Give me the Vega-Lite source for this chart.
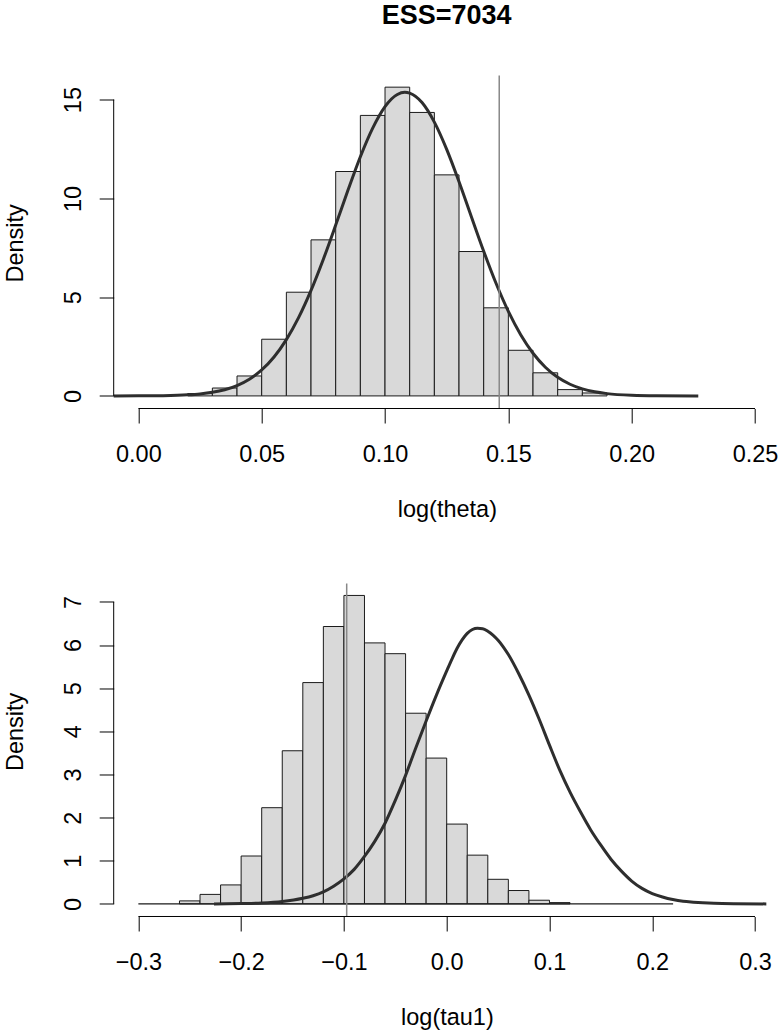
{
  "$schema": "https://vega.github.io/schema/vega-lite/v6.json",
  "autosize": {"type": "pad"},
  "padding": {"left": 3.7, "top": 1.5, "right": 0, "bottom": 0},
  "config": {
    "view": {"stroke": null},
    "font": "Liberation Sans",
    "axis": {
      "domain": false, "grid": false,
      "tickColor": "#000", "tickWidth": 1, "tickSize": 14.5,
      "labelFont": "Liberation Sans", "labelFontSize": 23.5, "labelColor": "#000",
      "titleFont": "Liberation Sans", "titleFontSize": 23.5, "titleColor": "#000", "titleFontWeight": "normal",
      "labelOverlap": false, "labelBound": false, "labelFlush": false
    }
  },
  "datasets": {
    "hist1": [
      {"lo": 0.02, "hi": 0.03, "density": 0.12},
      {"lo": 0.03, "hi": 0.04, "density": 0.40},
      {"lo": 0.04, "hi": 0.05, "density": 1.01},
      {"lo": 0.05, "hi": 0.06, "density": 2.87},
      {"lo": 0.06, "hi": 0.07, "density": 5.25},
      {"lo": 0.07, "hi": 0.08, "density": 7.90},
      {"lo": 0.08, "hi": 0.09, "density": 11.36},
      {"lo": 0.09, "hi": 0.10, "density": 14.20},
      {"lo": 0.10, "hi": 0.11, "density": 15.63},
      {"lo": 0.11, "hi": 0.12, "density": 14.35},
      {"lo": 0.12, "hi": 0.13, "density": 11.19},
      {"lo": 0.13, "hi": 0.14, "density": 7.31},
      {"lo": 0.14, "hi": 0.15, "density": 4.46},
      {"lo": 0.15, "hi": 0.16, "density": 2.31},
      {"lo": 0.16, "hi": 0.17, "density": 1.17},
      {"lo": 0.17, "hi": 0.18, "density": 0.32},
      {"lo": 0.18, "hi": 0.19, "density": 0.15}
    ],
    "curve1": [
      {"x": -0.01, "d": 0.0006}, {"x": 0.0, "d": 0.003}, {"x": 0.01, "d": 0.014},
      {"x": 0.02, "d": 0.054}, {"x": 0.025, "d": 0.1}, {"x": 0.03, "d": 0.181},
      {"x": 0.035, "d": 0.314}, {"x": 0.04, "d": 0.524}, {"x": 0.045, "d": 0.846},
      {"x": 0.05, "d": 1.315}, {"x": 0.055, "d": 1.971}, {"x": 0.06, "d": 2.849},
      {"x": 0.065, "d": 3.973}, {"x": 0.07, "d": 5.341}, {"x": 0.075, "d": 6.921},
      {"x": 0.08, "d": 8.647}, {"x": 0.085, "d": 10.42}, {"x": 0.09, "d": 12.11},
      {"x": 0.095, "d": 13.56}, {"x": 0.1, "d": 14.65}, {"x": 0.105, "d": 15.26},
      {"x": 0.108, "d": 15.37}, {"x": 0.11, "d": 15.33}, {"x": 0.115, "d": 14.85},
      {"x": 0.12, "d": 13.86}, {"x": 0.125, "d": 12.48}, {"x": 0.13, "d": 10.84},
      {"x": 0.135, "d": 9.073}, {"x": 0.14, "d": 7.324}, {"x": 0.145, "d": 5.702},
      {"x": 0.15, "d": 4.278}, {"x": 0.155, "d": 3.097}, {"x": 0.16, "d": 2.161},
      {"x": 0.165, "d": 1.453}, {"x": 0.17, "d": 0.942}, {"x": 0.175, "d": 0.59},
      {"x": 0.18, "d": 0.356}, {"x": 0.185, "d": 0.207}, {"x": 0.19, "d": 0.116},
      {"x": 0.2, "d": 0.033}, {"x": 0.21, "d": 0.008}, {"x": 0.227, "d": 0.0003}
    ],
    "vline1": [{"v": 0.1463}],
    "hist2": [
      {"lo": -0.26, "hi": -0.24, "density": 0.07},
      {"lo": -0.24, "hi": -0.22, "density": 0.22},
      {"lo": -0.22, "hi": -0.20, "density": 0.44},
      {"lo": -0.20, "hi": -0.18, "density": 1.11},
      {"lo": -0.18, "hi": -0.16, "density": 2.23},
      {"lo": -0.16, "hi": -0.14, "density": 3.55},
      {"lo": -0.14, "hi": -0.12, "density": 5.13},
      {"lo": -0.12, "hi": -0.10, "density": 6.43},
      {"lo": -0.10, "hi": -0.08, "density": 7.15},
      {"lo": -0.08, "hi": -0.06, "density": 6.05},
      {"lo": -0.06, "hi": -0.04, "density": 5.80},
      {"lo": -0.04, "hi": -0.02, "density": 4.42},
      {"lo": -0.02, "hi": 0.00, "density": 3.38},
      {"lo": 0.00, "hi": 0.02, "density": 1.85},
      {"lo": 0.02, "hi": 0.04, "density": 1.13},
      {"lo": 0.04, "hi": 0.06, "density": 0.57},
      {"lo": 0.06, "hi": 0.08, "density": 0.31},
      {"lo": 0.08, "hi": 0.10, "density": 0.085},
      {"lo": 0.10, "hi": 0.12, "density": 0.03}
    ],
    "curve2": [
      {"x": -0.2264, "d": 0.0}, {"x": -0.2, "d": 0.007}, {"x": -0.18, "d": 0.02},
      {"x": -0.16, "d": 0.055}, {"x": -0.14, "d": 0.13}, {"x": -0.13, "d": 0.19},
      {"x": -0.12, "d": 0.28}, {"x": -0.11, "d": 0.41}, {"x": -0.1, "d": 0.58},
      {"x": -0.09, "d": 0.8}, {"x": -0.08, "d": 1.1}, {"x": -0.07, "d": 1.45},
      {"x": -0.06, "d": 1.87}, {"x": -0.05, "d": 2.4}, {"x": -0.04, "d": 2.98},
      {"x": -0.03, "d": 3.62}, {"x": -0.02, "d": 4.24}, {"x": -0.01, "d": 4.84},
      {"x": 0.0, "d": 5.4}, {"x": 0.005, "d": 5.67}, {"x": 0.01, "d": 5.92},
      {"x": 0.015, "d": 6.12}, {"x": 0.02, "d": 6.27}, {"x": 0.025, "d": 6.36},
      {"x": 0.03, "d": 6.39}, {"x": 0.035, "d": 6.38}, {"x": 0.04, "d": 6.32},
      {"x": 0.045, "d": 6.23}, {"x": 0.05, "d": 6.11}, {"x": 0.055, "d": 5.96},
      {"x": 0.06, "d": 5.78}, {"x": 0.07, "d": 5.34}, {"x": 0.08, "d": 4.84},
      {"x": 0.09, "d": 4.28}, {"x": 0.1, "d": 3.68}, {"x": 0.11, "d": 3.1},
      {"x": 0.12, "d": 2.59}, {"x": 0.13, "d": 2.14}, {"x": 0.14, "d": 1.72},
      {"x": 0.15, "d": 1.36}, {"x": 0.16, "d": 1.03}, {"x": 0.17, "d": 0.76},
      {"x": 0.18, "d": 0.53}, {"x": 0.19, "d": 0.36}, {"x": 0.2, "d": 0.24},
      {"x": 0.21, "d": 0.16}, {"x": 0.22, "d": 0.1}, {"x": 0.23, "d": 0.06},
      {"x": 0.24, "d": 0.04}, {"x": 0.26, "d": 0.015}, {"x": 0.28, "d": 0.005},
      {"x": 0.311, "d": 0.0}
    ],
    "flat2": [{"x": -0.3, "d": 0}, {"x": 0.2203, "d": 0}],
    "vline2": [{"v": -0.0973}]
  },
  "spacing": 175,
  "bounds": "flush",
  "vconcat": [
    {
      "width": 666,
      "height": 333,
      "title": {"text": "ESS=7034", "font": "Liberation Sans", "fontSize": 27, "fontWeight": "bold", "color": "#000", "anchor": "middle", "baseline": "alphabetic", "offset": 23.9},
      "layer": [
        {
          "data": {"name": "hist1"},
          "mark": {"type": "bar", "fill": "#d9d9d9", "stroke": "#1a1a1a", "strokeWidth": 1},
          "encoding": {
            "x": {"field": "lo", "type": "quantitative",
                  "scale": {"domain": [-0.01, 0.26], "nice": false, "zero": false},
                  "axis": {"values": [0, 0.05, 0.1, 0.15, 0.2, 0.25], "format": ".2f", "labelBaseline": "alphabetic", "labelPadding": 38.2,
                           "title": "log(theta)", "titleBaseline": "alphabetic", "titleX": 333.2, "titleY": 107.7, "titleAlign": "center"}},
            "x2": {"field": "hi"},
            "y": {"field": "density", "type": "quantitative",
                  "scale": {"domain": [-0.637, 16.22], "nice": false, "zero": false},
                  "axis": {"values": [0, 5, 10, 15], "format": "d", "labelAngle": 270, "labelAlign": "center", "labelBaseline": "alphabetic", "labelPadding": 19.1,
                           "title": "Density", "titleAngle": 270, "titleBaseline": "alphabetic", "titleAlign": "center", "titleX": -90.9, "titleY": 167.4}},
            "y2": {"datum": 0}
          }
        },
        {
          "data": {"name": "curve1"},
          "mark": {"type": "line", "color": "#2e2e2e", "strokeWidth": 3, "interpolate": "monotone"},
          "encoding": {
            "x": {"field": "x", "type": "quantitative"},
            "y": {"field": "d", "type": "quantitative"}
          }
        },
        {
          "data": {"name": "vline1"},
          "mark": {"type": "rule", "color": "#888888", "strokeWidth": 1.5},
          "encoding": {"x": {"field": "v", "type": "quantitative"}}
        },
        {
          "data": {"values": [{}]},
          "mark": {"type": "rule", "color": "#000", "strokeWidth": 1},
          "encoding": {"x": {"datum": 0}, "x2": {"datum": 0.25}, "y": {"datum": -0.637}}
        },
        {
          "data": {"values": [{}]},
          "mark": {"type": "rule", "color": "#000", "strokeWidth": 1},
          "encoding": {"x": {"datum": -0.01}, "y": {"datum": 0}, "y2": {"datum": 15}}
        }
      ]
    },
    {
      "width": 666,
      "height": 333,
      "layer": [
        {
          "data": {"name": "hist2"},
          "mark": {"type": "bar", "fill": "#d9d9d9", "stroke": "#1a1a1a", "strokeWidth": 1},
          "encoding": {
            "x": {"field": "lo", "type": "quantitative",
                  "scale": {"domain": [-0.324, 0.324], "nice": false, "zero": false},
                  "axis": {"values": [-0.3, -0.2, -0.1, 0, 0.1, 0.2, 0.3], "format": ".1f", "labelBaseline": "alphabetic", "labelPadding": 38.2,
                           "title": "log(tau1)", "titleBaseline": "alphabetic", "titleX": 333.2, "titleY": 107.7, "titleAlign": "center"}},
            "x2": {"field": "hi"},
            "y": {"field": "density", "type": "quantitative",
                  "scale": {"domain": [-0.292, 7.427], "nice": false, "zero": false},
                  "axis": {"values": [0, 1, 2, 3, 4, 5, 6, 7], "format": "d", "labelAngle": 270, "labelAlign": "center", "labelBaseline": "alphabetic", "labelPadding": 19.1,
                           "title": "Density", "titleAngle": 270, "titleBaseline": "alphabetic", "titleAlign": "center", "titleX": -90.9, "titleY": 147.9}},
            "y2": {"datum": 0}
          }
        },
        {
          "data": {"name": "flat2"},
          "mark": {"type": "line", "color": "#1a1a1a", "strokeWidth": 1.2},
          "encoding": {
            "x": {"field": "x", "type": "quantitative"},
            "y": {"field": "d", "type": "quantitative"}
          }
        },
        {
          "data": {"name": "curve2"},
          "mark": {"type": "line", "color": "#2e2e2e", "strokeWidth": 3, "interpolate": "monotone"},
          "encoding": {
            "x": {"field": "x", "type": "quantitative"},
            "y": {"field": "d", "type": "quantitative"}
          }
        },
        {
          "data": {"name": "vline2"},
          "mark": {"type": "rule", "color": "#888888", "strokeWidth": 1.5},
          "encoding": {"x": {"field": "v", "type": "quantitative"}}
        },
        {
          "data": {"values": [{}]},
          "mark": {"type": "rule", "color": "#000", "strokeWidth": 1},
          "encoding": {"x": {"datum": -0.3}, "x2": {"datum": 0.3}, "y": {"datum": -0.292}}
        },
        {
          "data": {"values": [{}]},
          "mark": {"type": "rule", "color": "#000", "strokeWidth": 1},
          "encoding": {"x": {"datum": -0.324}, "y": {"datum": 0}, "y2": {"datum": 7}}
        }
      ]
    }
  ]
}
